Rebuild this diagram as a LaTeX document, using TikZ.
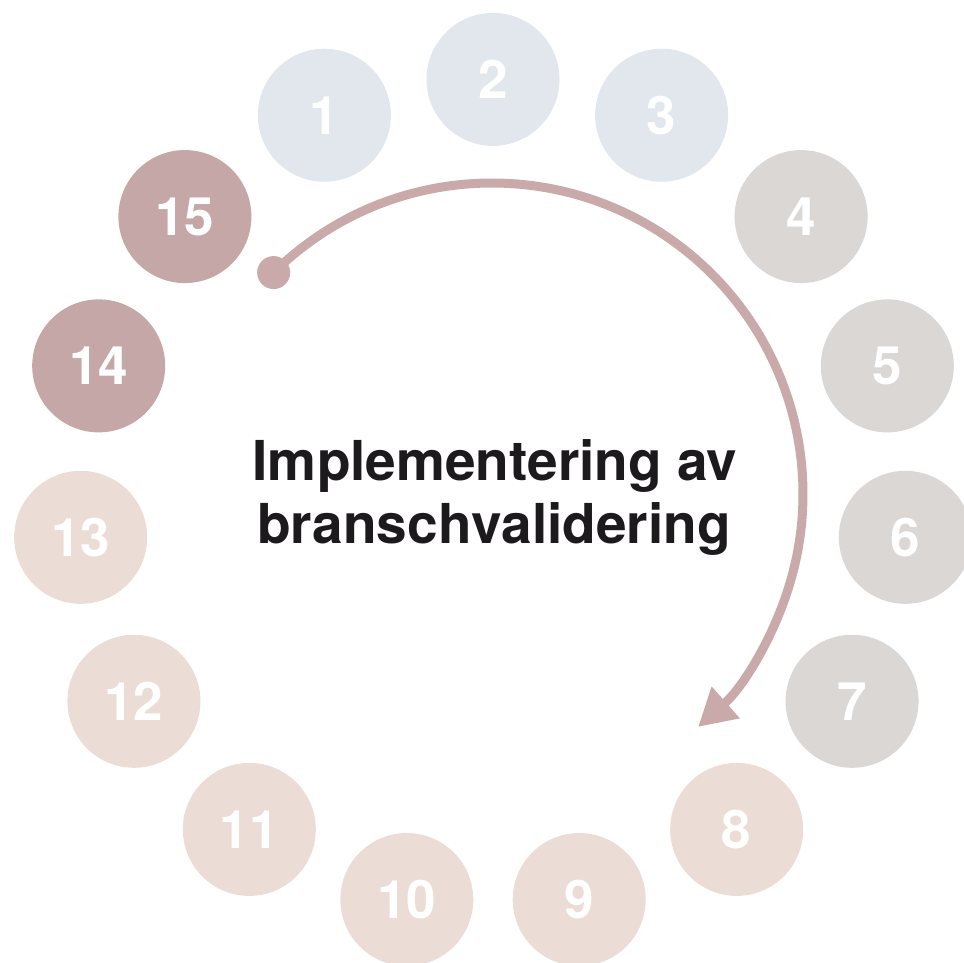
\documentclass[tikz,border=0pt]{standalone}
\usepackage{fontspec}
\setmainfont{TeX Gyre Heros}
\usetikzlibrary{arrows.meta,calc}
\definecolor{cblue}{HTML}{E1E7ED}
\definecolor{cgray}{HTML}{DAD7D5}
\definecolor{cpink}{HTML}{ECDCD6}
\definecolor{cmauve}{HTML}{C6A7A8}
\definecolor{carrow}{HTML}{C9A9AA}
\definecolor{ctext}{HTML}{1C1A1D}
\begin{document}
\begin{tikzpicture}[x=1pt,y=1pt,
  stepcircle/.style={circle,minimum size=133pt,inner sep=0pt,text=white,
    font=\fontsize{53}{53}\selectfont\bfseries},
  titletext/.style={anchor=base,text=ctext,font=\fontsize{55}{63}\selectfont\bfseries},
  flowarrow/.style={draw=carrow,line width=9pt,-{Triangle[length=37pt,width=40pt,fill=carrow]}},
  startdot/.style={circle,fill=carrow,minimum size=33pt,inner sep=0pt}
]
\useasboundingbox (0,0) rectangle (964,963);
\foreach \k/\col in {1/cblue,2/cblue,3/cblue,4/cgray,5/cgray,6/cgray,7/cgray,
  8/cpink,9/cpink,10/cpink,11/cpink,12/cpink,13/cpink,14/cmauve,15/cmauve}{
  \node[stepcircle,fill=\col] (c\k) at ({493+414.6*cos(138-24*\k)},{469+414.6*sin(138-24*\k)}) {\k};
}
\node[titletext] (t1) at (495,482) {Implementering av};
\node[titletext] (t2) at (494,419) {branschvalidering};
\coordinate (ac) at (492,469);
\node[startdot] (d) at ($(ac)+(134.6:311)$) {};
\draw[flowarrow] (d.center) arc[start angle=134.6, end angle=-48.5, radius=311];
\end{tikzpicture}
\end{document}
